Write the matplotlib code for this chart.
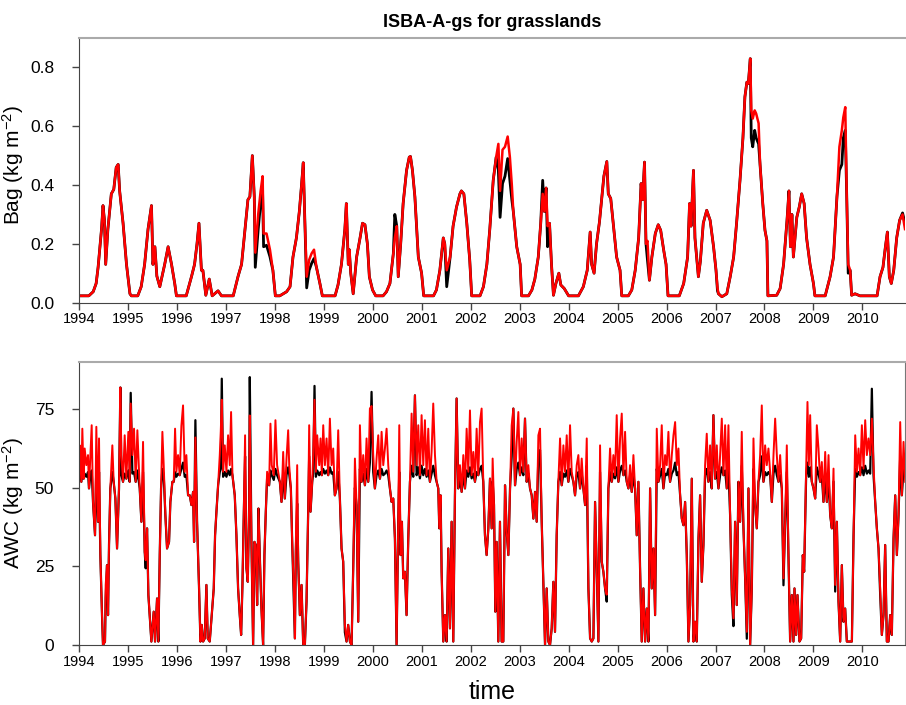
import numpy as np
import matplotlib
matplotlib.use("Agg")
import matplotlib.pyplot as plt

plt.rcParams['font.family'] = ['Liberation Sans', 'DejaVu Sans']
plt.rcParams['mathtext.fontset'] = 'custom'
plt.rcParams['mathtext.rm'] = 'Liberation Sans'
plt.rcParams['mathtext.it'] = 'Liberation Sans'

# ---- Bag (kg m-2), decimal years ----
t_bag = [1994.00, 1994.20, 1994.29, 1994.35, 1994.39, 1994.46, 1994.49, 1994.52, 1994.545, 1994.59,
         1994.66, 1994.71, 1994.76, 1994.80, 1994.83, 1994.90, 1994.97, 1995.04, 1995.07,
         1995.20, 1995.27, 1995.34, 1995.41, 1995.48, 1995.51, 1995.55, 1995.59, 1995.65, 1995.75,
         1995.82, 1995.89, 1995.955, 1995.99,
         1996.19, 1996.30, 1996.36, 1996.41, 1996.45, 1996.50, 1996.53, 1996.59, 1996.66, 1996.72,
         1996.84, 1996.91,
         1997.15, 1997.25, 1997.32, 1997.39, 1997.45, 1997.49, 1997.54, 1997.58, 1997.60, 1997.66,
         1997.71, 1997.75, 1997.77, 1997.83, 1997.90, 1997.96, 1998.01,
         1998.10, 1998.24, 1998.31, 1998.37, 1998.44, 1998.50, 1998.545, 1998.58, 1998.61, 1998.65,
         1998.70, 1998.75, 1998.80, 1998.85, 1998.92, 1998.97,
         1999.23, 1999.29, 1999.36, 1999.43, 1999.46, 1999.50, 1999.52, 1999.55, 1999.60, 1999.67,
         1999.74, 1999.79, 1999.84, 1999.89, 1999.93, 1999.995, 2000.06,
         2000.21, 2000.28, 2000.35, 2000.42, 2000.45, 2000.49, 2000.52, 2000.57, 2000.62, 2000.69,
         2000.745, 2000.77, 2000.81, 2000.86, 2000.93, 2000.997, 2001.04,
         2001.24, 2001.30, 2001.37, 2001.44, 2001.47, 2001.51, 2001.58, 2001.64, 2001.71, 2001.78,
         2001.81, 2001.86, 2001.92, 2001.98, 2002.02,
         2002.19, 2002.26, 2002.33, 2002.39, 2002.46, 2002.52, 2002.565, 2002.60, 2002.65, 2002.70,
         2002.755, 2002.80, 2002.84, 2002.87, 2002.94, 2003.01, 2003.04,
         2003.18, 2003.25, 2003.31, 2003.38, 2003.43, 2003.47, 2003.505, 2003.54, 2003.57, 2003.61,
         2003.65, 2003.69, 2003.74, 2003.80, 2003.84, 2003.91, 2004.00,
         2004.20, 2004.30, 2004.38, 2004.44, 2004.47, 2004.52, 2004.57, 2004.63, 2004.68, 2004.72,
         2004.78, 2004.81, 2004.86, 2004.91, 2004.98, 2005.05, 2005.085,
         2005.22, 2005.29, 2005.36, 2005.43, 2005.48, 2005.51, 2005.55, 2005.58, 2005.61, 2005.65,
         2005.70, 2005.77, 2005.83, 2005.88, 2005.94, 2005.99, 2006.03,
         2006.26, 2006.35, 2006.43, 2006.47, 2006.50, 2006.55, 2006.58, 2006.65, 2006.69, 2006.75,
         2006.82, 2006.89, 2006.96, 2007.01, 2007.04, 2007.06, 2007.13, 2007.23,
         2007.30, 2007.37, 2007.43, 2007.50, 2007.56, 2007.60, 2007.64, 2007.67, 2007.71, 2007.73,
         2007.76, 2007.80, 2007.83, 2007.88, 2007.91, 2007.965, 2008.01, 2008.05, 2008.07,
         2008.25, 2008.32, 2008.39, 2008.46, 2008.50, 2008.53, 2008.56, 2008.59, 2008.66, 2008.71,
         2008.76, 2008.81, 2008.86, 2008.93, 2009.00, 2009.03,
         2009.24, 2009.34, 2009.41, 2009.48, 2009.53, 2009.58, 2009.61, 2009.65, 2009.68, 2009.71,
         2009.75, 2009.78, 2009.85, 2009.95,
         2010.30, 2010.36, 2010.42, 2010.47, 2010.51, 2010.55, 2010.59, 2010.64, 2010.70, 2010.76,
         2010.82, 2010.87]

bag_red = [0.023, 0.023, 0.037, 0.065, 0.12, 0.25, 0.33, 0.28, 0.13, 0.25,
           0.37, 0.385, 0.46, 0.47, 0.38, 0.27, 0.13, 0.03, 0.023,
           0.023, 0.054, 0.13, 0.25, 0.33, 0.13, 0.19, 0.09, 0.054, 0.13,
           0.19, 0.13, 0.065, 0.023,
           0.023, 0.09, 0.13, 0.20, 0.27, 0.11, 0.11, 0.025, 0.08, 0.023,
           0.04, 0.023,
           0.023, 0.09, 0.13, 0.25, 0.35, 0.36, 0.50, 0.36, 0.17, 0.30,
           0.38, 0.43, 0.235, 0.235, 0.18, 0.11, 0.023,
           0.023, 0.037, 0.054, 0.155, 0.22, 0.31, 0.40, 0.476, 0.29, 0.088,
           0.145, 0.167, 0.18, 0.12, 0.065, 0.023,
           0.023, 0.06, 0.13, 0.25, 0.337, 0.13, 0.18, 0.10, 0.03, 0.155,
           0.22, 0.27, 0.265, 0.20, 0.088, 0.043, 0.023,
           0.023, 0.037, 0.065, 0.167, 0.22, 0.26, 0.088, 0.20, 0.337, 0.45,
           0.495, 0.497, 0.45, 0.36, 0.155, 0.10, 0.023,
           0.023, 0.043, 0.11, 0.22, 0.20, 0.11, 0.155, 0.26, 0.325, 0.37,
           0.38, 0.37, 0.27, 0.145, 0.023,
           0.023, 0.054, 0.13, 0.25, 0.416, 0.495, 0.54, 0.38, 0.52, 0.53,
           0.565, 0.495, 0.40, 0.31, 0.19, 0.13, 0.023,
           0.023, 0.043, 0.08, 0.155, 0.27, 0.37, 0.31, 0.39, 0.26, 0.27,
           0.13, 0.025, 0.065, 0.10, 0.06, 0.048, 0.023,
           0.023, 0.054, 0.11, 0.24, 0.13, 0.10, 0.20, 0.275, 0.36, 0.43,
           0.48, 0.37, 0.354, 0.27, 0.155, 0.11, 0.023,
           0.023, 0.043, 0.11, 0.22, 0.405, 0.35, 0.478, 0.20, 0.21, 0.076,
           0.155, 0.235, 0.265, 0.246, 0.18, 0.13, 0.023,
           0.023, 0.065, 0.155, 0.337, 0.26, 0.45, 0.22, 0.088, 0.14, 0.27,
           0.314, 0.28, 0.19, 0.11, 0.05, 0.03, 0.02, 0.03,
           0.088, 0.155, 0.27, 0.416, 0.56, 0.70, 0.75, 0.745, 0.83, 0.654,
           0.626, 0.654, 0.643, 0.61, 0.47, 0.337, 0.246, 0.21, 0.023,
           0.025, 0.048, 0.13, 0.28, 0.38, 0.19, 0.30, 0.155, 0.29, 0.325,
           0.37, 0.337, 0.22, 0.13, 0.065, 0.023,
           0.023, 0.088, 0.155, 0.36, 0.53, 0.586, 0.63, 0.665, 0.36, 0.13,
           0.11, 0.025, 0.03, 0.023,
           0.023, 0.088, 0.12, 0.19, 0.24, 0.088, 0.065, 0.11, 0.22, 0.28,
           0.30, 0.25]

bag_black = [0.023, 0.023, 0.037, 0.065, 0.12, 0.25, 0.33, 0.28, 0.13, 0.25,
             0.37, 0.385, 0.46, 0.47, 0.38, 0.27, 0.13, 0.03, 0.023,
             0.023, 0.054, 0.13, 0.25, 0.33, 0.13, 0.19, 0.09, 0.054, 0.13,
             0.19, 0.13, 0.065, 0.023,
             0.023, 0.09, 0.13, 0.20, 0.27, 0.11, 0.11, 0.025, 0.08, 0.023,
             0.04, 0.023,
             0.023, 0.09, 0.13, 0.25, 0.35, 0.36, 0.50, 0.36, 0.12, 0.25,
             0.34, 0.37, 0.19, 0.195, 0.156, 0.11, 0.023,
             0.023, 0.037, 0.054, 0.155, 0.22, 0.31, 0.40, 0.476, 0.29, 0.05,
             0.11, 0.133, 0.15, 0.12, 0.065, 0.023,
             0.023, 0.06, 0.13, 0.25, 0.337, 0.13, 0.18, 0.10, 0.03, 0.155,
             0.22, 0.27, 0.265, 0.20, 0.088, 0.043, 0.023,
             0.023, 0.037, 0.065, 0.167, 0.30, 0.26, 0.088, 0.20, 0.337, 0.45,
             0.495, 0.497, 0.45, 0.36, 0.155, 0.10, 0.023,
             0.023, 0.043, 0.11, 0.22, 0.20, 0.054, 0.155, 0.26, 0.325, 0.37,
             0.38, 0.37, 0.27, 0.145, 0.023,
             0.023, 0.054, 0.13, 0.25, 0.416, 0.495, 0.45, 0.29, 0.405, 0.43,
             0.49, 0.416, 0.35, 0.31, 0.19, 0.13, 0.023,
             0.023, 0.043, 0.08, 0.155, 0.27, 0.416, 0.31, 0.39, 0.19, 0.27,
             0.13, 0.025, 0.065, 0.10, 0.06, 0.048, 0.023,
             0.023, 0.054, 0.11, 0.24, 0.13, 0.10, 0.20, 0.275, 0.36, 0.43,
             0.48, 0.37, 0.354, 0.27, 0.155, 0.11, 0.023,
             0.023, 0.043, 0.11, 0.22, 0.405, 0.35, 0.478, 0.20, 0.145, 0.076,
             0.155, 0.235, 0.265, 0.246, 0.18, 0.13, 0.023,
             0.023, 0.065, 0.155, 0.337, 0.26, 0.45, 0.22, 0.088, 0.14, 0.27,
             0.314, 0.28, 0.19, 0.11, 0.04, 0.03, 0.02, 0.03,
             0.088, 0.155, 0.27, 0.416, 0.56, 0.70, 0.75, 0.745, 0.83, 0.56,
             0.53, 0.586, 0.56, 0.54, 0.47, 0.337, 0.246, 0.21, 0.023,
             0.025, 0.048, 0.13, 0.28, 0.38, 0.19, 0.30, 0.155, 0.29, 0.325,
             0.37, 0.337, 0.22, 0.13, 0.065, 0.023,
             0.023, 0.088, 0.155, 0.36, 0.45, 0.47, 0.56, 0.586, 0.36, 0.10,
             0.11, 0.025, 0.03, 0.023,
             0.023, 0.088, 0.12, 0.19, 0.24, 0.088, 0.065, 0.11, 0.22, 0.28,
             0.305, 0.27]

# ---- AWC (kg m-2), decimal years ----
t_awc = [
    1994.000, 1994.014, 1994.048, 1994.068, 1994.095, 1994.116, 1994.150, 1994.184, 1994.204, 1994.232,
    1994.259, 1994.286, 1994.327, 1994.354, 1994.388, 1994.409, 1994.436, 1994.470, 1994.490, 1994.531,
    1994.545, 1994.572, 1994.593, 1994.613, 1994.640, 1994.681, 1994.708, 1994.743, 1994.777, 1994.817,
    1994.845, 1994.865, 1994.899, 1994.933, 1994.967,
    1995.008, 1995.035, 1995.056, 1995.090, 1995.124, 1995.158, 1995.192, 1995.240, 1995.274, 1995.308,
    1995.342, 1995.362, 1995.390, 1995.417, 1995.444, 1995.478, 1995.526, 1995.553, 1995.594, 1995.621,
    1995.649, 1995.676, 1995.703, 1995.730, 1995.764, 1995.798, 1995.839, 1995.866, 1995.907, 1995.935,
    1995.962, 1995.989,
    1996.023, 1996.057, 1996.091, 1996.125, 1996.159, 1996.193, 1996.228, 1996.262, 1996.296, 1996.330,
    1996.350, 1996.377, 1996.411, 1996.452, 1996.480, 1996.507, 1996.534, 1996.568, 1996.602, 1996.629,
    1996.670, 1996.725, 1996.752, 1996.779, 1996.807, 1996.841, 1996.875, 1996.895, 1996.916, 1996.943,
    1996.977,
    1997.011, 1997.045, 1997.079, 1997.106, 1997.134, 1997.181, 1997.215, 1997.249, 1997.283, 1997.311,
    1997.338, 1997.365, 1997.392, 1997.420, 1997.447, 1997.474, 1997.488, 1997.522, 1997.556, 1997.583,
    1997.610, 1997.638, 1997.665, 1997.692, 1997.726, 1997.760, 1997.787, 1997.815, 1997.842, 1997.883,
    1997.910, 1997.937, 1997.978,
    1998.012, 1998.046, 1998.102, 1998.136, 1998.170, 1998.204, 1998.238, 1998.272, 1998.293, 1998.327,
    1998.354, 1998.388, 1998.409, 1998.429, 1998.456, 1998.477, 1998.511, 1998.545, 1998.579, 1998.613,
    1998.647, 1998.681, 1998.701, 1998.729, 1998.763, 1998.783, 1998.810, 1998.838, 1998.865, 1998.906,
    1998.933, 1998.960, 1998.988,
    1999.022, 1999.056, 1999.090, 1999.124, 1999.158, 1999.192, 1999.226, 1999.260, 1999.294, 1999.328,
    1999.362, 1999.396, 1999.430, 1999.464, 1999.498, 1999.533, 1999.567, 1999.601, 1999.635, 1999.669,
    1999.703, 1999.737, 1999.771, 1999.805, 1999.839, 1999.873, 1999.907, 1999.941, 1999.975,
    2000.009, 2000.043, 2000.077, 2000.112, 2000.146, 2000.180, 2000.214, 2000.248, 2000.282, 2000.316,
    2000.350, 2000.384, 2000.418, 2000.452, 2000.486, 2000.520, 2000.541, 2000.568, 2000.595, 2000.622,
    2000.656, 2000.690, 2000.725, 2000.759, 2000.793, 2000.827, 2000.861, 2000.895, 2000.929, 2000.963,
    2000.997,
    2001.031, 2001.065, 2001.099, 2001.133, 2001.167, 2001.201, 2001.235, 2001.270, 2001.304, 2001.338,
    2001.358, 2001.385, 2001.406, 2001.440, 2001.474, 2001.508, 2001.542, 2001.576, 2001.610, 2001.644,
    2001.678, 2001.712, 2001.746, 2001.780, 2001.815, 2001.849, 2001.883, 2001.917, 2001.951, 2001.985,
    2002.019, 2002.053, 2002.087, 2002.121, 2002.155, 2002.189, 2002.223, 2002.257, 2002.291, 2002.325,
    2002.360, 2002.394, 2002.428, 2002.448, 2002.476, 2002.503, 2002.530, 2002.564, 2002.598, 2002.632,
    2002.666, 2002.701, 2002.735, 2002.769, 2002.803, 2002.837, 2002.871, 2002.905, 2002.939, 2002.973,
    2003.007, 2003.041, 2003.075, 2003.109, 2003.143, 2003.177, 2003.211, 2003.246, 2003.280, 2003.314,
    2003.348, 2003.382, 2003.416, 2003.450, 2003.484, 2003.518, 2003.552, 2003.586, 2003.620, 2003.654,
    2003.688, 2003.722, 2003.756, 2003.790, 2003.825, 2003.859, 2003.893, 2003.927, 2003.961, 2003.995,
    2004.029, 2004.063, 2004.097, 2004.131, 2004.165, 2004.199, 2004.233, 2004.267, 2004.301, 2004.336,
    2004.370, 2004.404, 2004.438, 2004.472, 2004.506, 2004.540, 2004.574, 2004.608, 2004.642, 2004.676,
    2004.710, 2004.744, 2004.778, 2004.812, 2004.846, 2004.880, 2004.914, 2004.948, 2004.982,
    2005.017, 2005.051, 2005.085, 2005.119, 2005.153, 2005.187, 2005.221, 2005.255, 2005.289, 2005.323,
    2005.357, 2005.391, 2005.425, 2005.459, 2005.493, 2005.527, 2005.562, 2005.596, 2005.630, 2005.664,
    2005.698, 2005.732, 2005.766, 2005.800, 2005.834, 2005.868, 2005.902, 2005.936, 2005.970,
    2006.004, 2006.038, 2006.072, 2006.107, 2006.141, 2006.175, 2006.209, 2006.243, 2006.277, 2006.311,
    2006.345, 2006.379, 2006.413, 2006.447, 2006.481, 2006.515, 2006.549, 2006.583, 2006.617, 2006.652,
    2006.685, 2006.719, 2006.753, 2006.787, 2006.821, 2006.855, 2006.889, 2006.923, 2006.957, 2006.992,
    2007.026, 2007.060, 2007.094, 2007.128, 2007.162, 2007.196, 2007.230, 2007.264, 2007.298, 2007.332,
    2007.366, 2007.400, 2007.434, 2007.468, 2007.502, 2007.536, 2007.571, 2007.605, 2007.639, 2007.673,
    2007.707, 2007.741, 2007.775, 2007.809, 2007.843, 2007.877, 2007.911, 2007.945, 2007.979,
    2008.013, 2008.047, 2008.081, 2008.115, 2008.150, 2008.184, 2008.218, 2008.252, 2008.286, 2008.320,
    2008.354, 2008.388, 2008.422, 2008.456, 2008.490, 2008.524, 2008.558, 2008.592, 2008.613, 2008.647,
    2008.674, 2008.715, 2008.749, 2008.783, 2008.810, 2008.851, 2008.878, 2008.906, 2008.933, 2008.967,
    2009.001, 2009.035, 2009.069, 2009.103, 2009.137, 2009.171, 2009.205, 2009.240, 2009.274, 2009.308,
    2009.342, 2009.376, 2009.410, 2009.444, 2009.478, 2009.512, 2009.546, 2009.580, 2009.614, 2009.648,
    2009.682, 2009.716, 2009.750, 2009.785, 2009.819, 2009.853, 2009.887, 2009.921, 2009.955, 2009.989,
    2010.023, 2010.057, 2010.091, 2010.125, 2010.159, 2010.193, 2010.227, 2010.261, 2010.295, 2010.329,
    2010.363, 2010.397, 2010.431, 2010.465, 2010.499, 2010.533, 2010.567, 2010.601, 2010.636, 2010.670,
    2010.704, 2010.738, 2010.772, 2010.806, 2010.840, 2010.874]

awc_red = [
    57.2, 63.5, 51.9, 68.8, 52.9, 62.5, 57.2, 60.4, 49.8, 60.4,
    69.9, 45.5, 34.9, 69.4, 39.2, 65.7, 28.6, 9.5, 0.0, 1.1,
    19.1, 25.4, 9.5, 31.8, 49.8, 63.5, 51.9, 46.6, 30.7, 49.8,
    81.9, 60.4, 51.9, 66.7, 52.9,
    67.8, 51.9, 76.8, 60.4, 68.8, 51.9, 68.3, 49.8, 39.2, 64.6,
    29.6, 27.0, 37.1, 15.9, 9.5, 1.1, 10.6, 1.1, 14.8, 1.1,
    28.6, 49.8, 67.8, 57.2, 41.3, 30.7, 32.8, 45.5, 51.9, 51.9,
    68.8, 55.1,
    60.4, 54.0, 69.7, 76.2, 55.1, 60.4, 47.6, 47.6, 44.5, 48.7,
    32.8, 66.0, 39.2, 18.0, 1.1, 6.4, 1.1, 2.1, 19.1, 2.1,
    1.1, 12.7, 18.0, 34.9, 42.4, 50.8, 60.4, 67.8, 78.0, 55.1,
    63.5,
    55.1, 66.7, 57.2, 74.1, 54.0, 47.6, 34.9, 18.0, 9.5, 3.2,
    19.1, 41.3, 66.7, 24.4, 20.1, 43.4, 73.0, 32.8, 0.0, 32.8,
    31.8, 12.7, 43.4, 28.6, 11.6, 0.0, 28.6, 42.4, 55.1, 50.8,
    70.4, 57.2, 54.0,
    71.5, 57.2, 51.9, 45.5, 61.4, 46.6, 59.3, 68.3, 57.2, 49.8,
    32.8, 16.9, 2.1, 32.8, 57.2, 26.5, 9.5, 19.1, 0.0, 0.0,
    13.8, 42.4, 69.9, 42.4, 51.9, 60.4, 78.0, 55.1, 66.7, 57.2,
    65.7, 54.0, 69.9,
    57.2, 65.7, 54.0, 72.0, 57.2, 62.5, 47.6, 49.8, 68.3, 46.6,
    30.7, 26.5, 6.4, 1.1, 6.4, 1.1, 0.0, 24.4, 59.3, 44.5,
    7.4, 69.9, 51.9, 60.4, 50.8, 65.7, 51.9, 75.2, 76.0,
    60.4, 49.8, 59.3, 66.7, 52.9, 67.8, 57.2, 62.5, 68.8, 57.2,
    49.8, 45.5, 46.6, 33.9, 0.0, 39.2, 69.9, 28.6, 39.2, 21.2,
    23.3, 9.5, 33.9, 51.9, 73.6, 55.1, 79.4, 57.2, 69.9, 54.0,
    73.1,
    57.2, 71.5, 54.0, 68.8, 51.9, 61.4, 76.8, 60.4, 51.9, 49.8,
    37.1, 47.6, 23.3, 1.1, 9.5, 1.1, 30.7, 5.3, 39.2, 1.1,
    47.6, 78.4, 49.8, 57.2, 48.7, 60.4, 49.8, 68.8, 55.1, 74.6,
    54.0, 61.4, 51.9, 68.8, 54.0, 70.9, 75.2, 51.9, 34.9, 28.6,
    37.1, 52.9, 37.1, 59.3, 44.5, 10.6, 32.8, 1.1, 39.2, 1.1,
    1.1, 50.8, 36.0, 28.6, 49.8, 69.9, 75.2, 50.8, 64.6, 74.1,
    54.0, 65.7, 55.1, 72.0, 51.9, 57.2, 49.8, 47.6, 40.2, 48.7,
    39.2, 66.7, 68.8, 39.2, 20.1, 0.0, 18.0, 1.1, 0.0, 5.3,
    20.1, 4.2, 34.9, 51.9, 65.7, 50.8, 63.5, 55.1, 66.7, 51.9,
    69.9, 55.1, 51.9, 47.6, 57.2, 60.4, 49.8, 59.3, 49.8, 44.5,
    65.7, 18.0, 2.1, 1.1, 2.1, 45.5, 24.4, 1.1, 63.5, 26.5,
    23.3, 18.0, 16.0, 49.8, 62.5, 51.9, 60.4, 54.0, 73.1,
    51.9, 65.7, 73.6, 54.0, 67.8, 51.9, 49.8, 57.2, 48.7, 60.4,
    49.8, 34.9, 51.9, 24.4, 1.1, 18.0, 1.1, 11.6, 1.1, 49.8,
    18.0, 30.7, 9.5, 68.8, 51.9, 57.2, 69.9, 49.8, 60.4,
    57.2, 67.8, 51.9, 60.4, 66.7, 70.9, 57.2, 62.5, 47.6, 40.2,
    38.1, 45.5, 28.6, 1.1, 12.7, 52.9, 1.1, 7.4, 1.1, 33.9,
    47.6, 20.1, 31.8, 57.2, 67.2, 51.9, 63.5, 49.8, 73.1, 52.9,
    63.5, 49.8, 60.4, 72.0, 54.0, 69.9, 49.8, 69.9, 41.3, 18.0,
    8.5, 39.2, 12.7, 51.9, 39.2, 67.8, 37.1, 21.2, 4.2, 49.8,
    0.0, 18.0, 65.7, 44.5, 37.1, 51.9, 60.4, 76.2, 51.9,
    63.5, 57.2, 62.5, 55.1, 45.5, 60.4, 72.0, 60.4, 51.9, 60.4,
    49.8, 21.2, 39.2, 63.5, 28.6, 1.1, 15.9, 1.1, 18.0, 3.2,
    15.9, 1.1, 2.1, 28.6, 23.3, 56.1, 77.3, 57.2, 73.1, 51.9,
    49.8, 46.6, 69.9, 62.5, 51.9, 58.2, 45.5, 61.4, 45.5, 60.4,
    41.3, 37.1, 56.1, 19.1, 39.2, 13.8, 1.1, 25.4, 7.4, 11.6,
    1.1, 1.1, 1.1, 1.1, 34.9, 66.7, 55.1, 62.5, 54.0, 69.9,
    56.1, 71.5, 60.4, 65.7, 60.4, 72.0, 57.2, 45.5, 37.1, 30.7,
    18.0, 3.2, 9.5, 31.8, 1.1, 1.1, 9.5, 3.2, 33.9, 47.6,
    28.6, 41.3, 70.9, 47.6, 64.6, 51.9]

awc_black = [
    55.0, 56.5, 51.9, 55.8, 52.9, 54.5, 53.5, 55.0, 49.8, 53.8,
    55.5, 45.5, 34.9, 57.0, 39.2, 55.0, 28.6, 9.5, 0.0, 1.1,
    15.0, 25.4, 9.5, 31.8, 49.8, 55.0, 51.9, 46.6, 30.7, 49.8,
    81.9, 54.0, 51.9, 54.5, 52.9,
    55.5, 51.9, 80.2, 54.5, 55.0, 51.9, 55.5, 49.8, 39.2, 55.0,
    29.6, 24.4, 37.1, 15.9, 9.5, 1.1, 10.6, 1.1, 14.8, 1.1,
    28.6, 49.8, 56.0, 54.0, 41.3, 30.7, 32.8, 45.5, 51.9, 51.9,
    55.0, 53.5,
    54.5, 54.0, 56.0, 58.0, 53.5, 54.0, 47.6, 47.6, 44.5, 48.7,
    32.8, 71.5, 39.2, 18.0, 1.1, 6.4, 1.1, 2.1, 19.1, 2.1,
    1.1, 12.7, 18.0, 34.9, 42.4, 50.8, 55.0, 56.0, 84.7, 53.5,
    55.0,
    53.5, 55.5, 54.0, 56.0, 54.0, 47.6, 34.9, 18.0, 9.5, 3.2,
    19.1, 41.3, 60.0, 24.4, 20.1, 43.4, 85.2, 32.8, 0.0, 32.8,
    31.8, 12.7, 43.4, 28.6, 11.6, 0.0, 28.6, 42.4, 53.0, 50.8,
    55.5, 54.0, 52.5,
    56.0, 54.0, 51.9, 45.5, 55.0, 46.6, 54.0, 56.5, 54.5, 49.8,
    32.8, 14.0, 2.1, 30.0, 45.0, 26.5, 9.5, 19.1, 0.0, 0.0,
    13.8, 42.4, 60.0, 42.4, 51.9, 54.5, 82.4, 53.5, 55.5, 54.0,
    55.0, 54.0, 56.0,
    54.5, 55.5, 54.0, 56.5, 54.5, 55.0, 47.6, 49.8, 55.0, 46.6,
    30.7, 26.5, 4.0, 1.1, 6.4, 1.1, 0.0, 24.4, 50.0, 44.5,
    7.4, 56.0, 51.9, 54.5, 50.8, 56.0, 51.9, 58.0, 80.5,
    55.0, 49.8, 54.0, 55.5, 52.9, 56.0, 54.0, 54.5, 55.5, 54.0,
    49.8, 45.5, 46.6, 33.9, 0.0, 39.2, 55.0, 28.6, 39.2, 21.2,
    23.3, 9.5, 33.9, 51.9, 57.0, 53.5, 79.4, 54.0, 56.5, 53.0,
    57.0,
    54.0, 56.0, 53.5, 55.5, 51.9, 54.5, 57.0, 54.0, 51.9, 49.8,
    37.1, 47.6, 23.3, 1.1, 9.5, 1.1, 30.7, 5.3, 39.2, 1.1,
    47.6, 78.4, 49.8, 54.0, 48.7, 54.5, 49.8, 55.5, 53.5, 56.5,
    53.0, 54.5, 51.9, 55.0, 54.0, 56.0, 57.0, 51.9, 34.9, 28.6,
    37.1, 52.9, 37.1, 52.0, 44.5, 10.6, 32.8, 1.1, 39.2, 1.1,
    1.1, 50.8, 36.0, 28.6, 49.8, 60.0, 75.2, 50.8, 56.0, 58.0,
    54.0, 56.5, 54.0, 72.0, 51.9, 54.5, 49.8, 47.6, 40.2, 48.7,
    39.2, 60.0, 62.0, 39.2, 20.1, 0.0, 18.0, 1.1, 0.0, 5.3,
    20.1, 4.2, 34.9, 51.9, 55.0, 50.8, 54.5, 53.5, 55.5, 51.9,
    56.0, 54.0, 51.9, 47.6, 54.0, 55.0, 49.8, 54.5, 49.8, 44.5,
    57.0, 18.0, 2.1, 1.1, 2.1, 45.5, 24.4, 1.1, 55.0, 26.5,
    23.3, 18.0, 13.8, 49.8, 55.0, 51.9, 54.5, 53.0, 56.5,
    51.9, 55.5, 57.0, 54.0, 55.5, 51.9, 49.8, 54.0, 48.7, 54.0,
    49.8, 34.9, 51.9, 24.4, 1.1, 18.0, 1.1, 11.6, 1.1, 49.8,
    18.0, 30.7, 9.5, 56.0, 51.9, 54.0, 56.0, 49.8, 54.5,
    54.0, 56.0, 51.9, 54.5, 55.5, 58.0, 54.0, 55.0, 47.6, 40.2,
    38.1, 45.5, 28.6, 1.1, 12.7, 52.9, 1.1, 7.4, 1.1, 33.9,
    47.6, 20.1, 31.8, 54.0, 56.0, 51.9, 55.0, 49.8, 73.1, 52.9,
    55.0, 49.8, 54.0, 56.5, 54.0, 55.5, 49.8, 56.0, 41.3, 16.0,
    6.0, 39.2, 12.7, 51.9, 39.2, 57.0, 37.1, 21.2, 2.0, 49.8,
    0.0, 18.0, 56.0, 44.5, 37.1, 51.9, 54.0, 60.0, 51.9,
    55.0, 54.0, 55.0, 54.0, 45.5, 54.5, 57.0, 54.0, 51.9, 54.0,
    49.8, 19.0, 39.2, 55.0, 28.6, 1.1, 15.9, 1.1, 18.0, 3.2,
    15.9, 1.1, 2.1, 28.6, 23.3, 54.0, 58.0, 53.5, 56.5, 51.9,
    49.8, 46.6, 56.5, 54.5, 51.9, 54.0, 45.5, 54.0, 45.5, 54.0,
    41.3, 37.1, 52.0, 17.0, 39.2, 13.8, 1.1, 25.4, 7.4, 11.6,
    1.1, 1.1, 1.1, 1.1, 34.9, 56.0, 53.5, 55.0, 54.0, 56.5,
    54.0, 57.0, 54.5, 55.5, 54.5, 81.5, 54.0, 45.5, 37.1, 30.7,
    16.0, 3.2, 9.5, 31.8, 1.1, 1.1, 9.5, 3.2, 33.9, 47.6,
    28.6, 41.3, 60.0, 47.6, 56.0, 54.0]

years = list(range(1994, 2011))
bag_ticks = [0.0, 0.2, 0.4, 0.6, 0.8]
awc_ticks = [0, 25, 50, 75]

fig = plt.figure(figsize=(9.06, 7.05), dpi=100)
ax1 = fig.add_axes([0.0872, 0.5708, 0.9117, 0.3752])
ax2 = fig.add_axes([0.0872, 0.0851, 0.9117, 0.4014])

ax1.plot(t_bag, bag_black, color='black', lw=2.0)
ax1.plot(t_bag, bag_red, color='red', lw=1.8)
ax2.plot(t_awc, awc_black, color='black', lw=1.6)
ax2.plot(t_awc, awc_red, color='red', lw=1.4)

ax1.set_ylim(0, 0.9)
ax2.set_ylim(0, 90)
for ax in (ax1, ax2):
    ax.set_xlim(1994, 2010.87)
    ax.set_xticks(years)
    ax.set_xticklabels([str(y) for y in years], fontsize=10.5)
    ax.tick_params(direction='out', length=5, width=1, color='#444444', pad=2)
    ax.tick_params(axis='y', labelsize=12.5, pad=13)
    ax.spines['left'].set_color('#444444')
    ax.spines['bottom'].set_color('#444444')
    ax.spines['top'].set_color('#aaaaaa')
    ax.spines['top'].set_linewidth(1.5)

ax1.spines['right'].set_visible(False)
ax2.spines['right'].set_color('#777777')

ax1.set_yticks(bag_ticks)
ax1.set_yticklabels(['0.0', '0.2', '0.4', '0.6', '0.8'])
ax2.set_yticks(awc_ticks)
ax2.set_yticklabels(['0', '25', '50', '75'])

ax1.set_ylabel('Bag (kg m$^{-2}$)', fontsize=15)
ax2.set_ylabel('AWC (kg m$^{-2}$)', fontsize=15)
ax1.yaxis.set_label_coords(-0.064, 0.52)
ax2.yaxis.set_label_coords(-0.064, 0.5)
ax2.set_xlabel('time', fontsize=18, labelpad=8)
ax1.set_title('ISBA-A-gs for grasslands', fontsize=13, fontweight='bold', pad=8)

fig.savefig('out.png', dpi=100)
